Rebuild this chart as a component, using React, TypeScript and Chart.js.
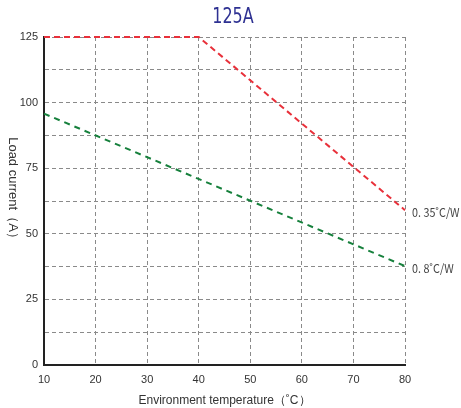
import React, { useEffect, useRef } from "react";
import { Chart, registerables } from "chart.js";

Chart.register(...registerables);

const temps = [10, 20, 30, 40, 50, 60, 70, 80];
const redPoints = [
  { x: 10, y: 125 },
  { x: 40, y: 125 },
  { x: 80, y: 59 },
];
const greenPoints = [
  { x: 10, y: 95.8 },
  { x: 80, y: 37.7 },
];
const seriesLabels = ["0. 35˚C/W", "0. 8˚C/W"];
const titleText = "125A";
const yTitle = "Load current（A）";
const xTitle = "Environment temperature（˚C）";

export default function App() {
  const ref = useRef<HTMLCanvasElement | null>(null);
  useEffect(() => {
    document.body.style.margin = "0";
    const canvas = ref.current!;
    const overlay = {
      id: "overlay",
      afterDraw(chart: any) {
        const ctx = chart.ctx;
        const xs = chart.scales.x;
        const ys = chart.scales.y;
        ctx.save();
        ctx.fillStyle = "#2e3192";
        ctx.font = "20px 'DejaVu Sans', sans-serif";
        ctx.textAlign = "center";
        ctx.textBaseline = "middle";
        ctx.save();
        ctx.translate(233, 18);
        ctx.scale(0.8, 1.05);
        ctx.fillText(titleText, 0, 0);
        ctx.restore();
        ctx.fillStyle = "#444";
        ctx.font = "12px 'Noto Sans CJK SC', sans-serif";
        ctx.textAlign = "left";
        const ends = [redPoints[redPoints.length - 1], greenPoints[greenPoints.length - 1]];
        ends.forEach((p, i) => {
          ctx.save();
          ctx.translate(xs.getPixelForValue(p.x) + 7, ys.getPixelForValue(p.y) + 2);
          ctx.scale(0.9, 1);
          ctx.fillText(seriesLabels[i], 0, 0);
          ctx.restore();
        });
        ctx.fillStyle = "#333";
        ctx.font = "13px Arial, 'Liberation Sans', sans-serif";
        ctx.translate(13, 191);
        ctx.rotate(Math.PI / 2);
        ctx.textAlign = "center";
        ctx.fillText(yTitle, 0, 0);
        ctx.restore();
      },
    };
    const chart = new Chart(canvas, {
      type: "line",
      data: {
        datasets: [
          {
            data: redPoints,
            borderColor: "#e8303a",
            borderWidth: 2,
            borderDash: [6, 4],
            pointRadius: 0,
            tension: 0,
            clip: 4,
          },
          {
            data: greenPoints,
            borderColor: "#16803c",
            borderWidth: 2,
            borderDash: [6, 5],
            pointRadius: 0,
            tension: 0,
            clip: 4,
          },
        ],
      },
      options: {
        animation: false,
        responsive: false,
        layout: { padding: { left: 0, right: 56, top: 37, bottom: 0 } },
        plugins: { legend: { display: false }, tooltip: { enabled: false }, title: { display: false } },
        scales: {
          x: {
            type: "linear",
            min: 10,
            max: 80,
            afterBuildTicks: (s: any) => {
              s.ticks = temps.map((v) => ({ value: v }));
            },
            afterFit: (s: any) => {
              s.height = 43;
            },
            grid: { color: "#8a8a8a", lineWidth: 1, drawTicks: false },
            border: { color: "#222", width: 2, dash: [4, 3] },
            ticks: { color: "#333", font: { size: 11, family: "Arial, 'Liberation Sans', sans-serif" }, padding: 8 },
            title: {
              display: true,
              text: xTitle,
              color: "#333",
              font: { size: 12, family: "Arial, 'Liberation Sans', sans-serif" },
              padding: { top: 2, bottom: 0 },
            },
          },
          y: {
            min: 0,
            max: 125,
            afterBuildTicks: (s: any) => {
              const t = [];
              for (let v = 0; v <= 125; v += 12.5) t.push({ value: v });
              s.ticks = t;
            },
            afterFit: (s: any) => {
              s.width = 44;
            },
            grid: { color: "#8a8a8a", lineWidth: 1, drawTicks: false },
            border: { color: "#222", width: 2, dash: [4, 3] },
            ticks: {
              color: "#333",
              font: { size: 11, family: "Arial, 'Liberation Sans', sans-serif" },
              padding: 6,
              autoSkip: false,
              callback: (v: any) => (Number(v) % 25 === 0 ? String(v) : ""),
            },
          },
        },
      },
      plugins: [overlay],
    } as any);
    return () => chart.destroy();
  }, []);
  return <canvas ref={ref} width={461} height={408} style={{ display: "block" }} />;
}
